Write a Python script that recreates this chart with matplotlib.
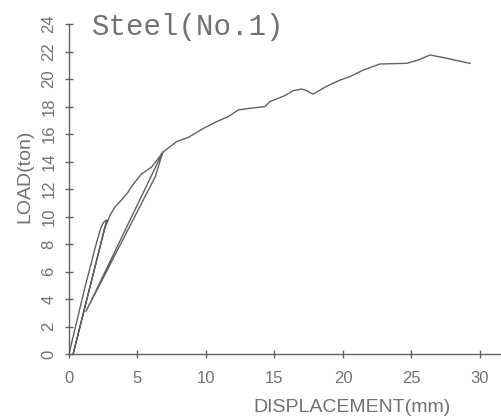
import matplotlib
matplotlib.use('Agg')
import matplotlib.pyplot as plt
import numpy as np

# load-displacement record (mm, ton)
disp = [0.0, 0.6, 1.2, 1.6, 1.9, 2.1, 2.3, 2.5, 2.75,   # first loading
        0.3,                                           # unload 1
        2.6,                                           # reload 1
        3.0, 3.36, 3.84, 4.33, 4.57, 5.3, 6.03, 6.5, 6.84,
        1.24,                                          # unload 2
        6.3, 6.84,                                     # reload 2
        7.86, 8.7, 9.8, 10.78, 11.63, 12.36, 13.2, 14.3, 14.67, 15.04,
        15.77, 16.37, 16.98, 17.35, 17.8, 18.8, 19.8, 20.5, 21.48, 22.7,
        24.65, 25.5, 26.35, 27.3, 29.27]
load = [0.0, 2.5, 5.0, 6.5, 7.7, 8.4, 9.1, 9.55, 9.75,
        0.0,
        9.1,
        10.1, 10.7, 11.2, 11.8, 12.2, 13.1, 13.6, 14.2, 14.67,
        3.1,
        12.9, 14.67,
        15.45, 15.75, 16.4, 16.9, 17.27, 17.75, 17.87, 17.99, 18.36, 18.5,
        18.8, 19.15, 19.27, 19.15, 18.9, 19.47, 19.93, 20.17, 20.65, 21.09,
        21.14, 21.38, 21.75, 21.56, 21.14]

xticks = [0, 5, 10, 15, 20, 25, 30]
yticks = [0, 2, 4, 6, 8, 10, 12, 14, 16, 18, 20, 22, 24]

C_LINE = '#626262'
C_TEXT = '#727272'
FONT = 'Liberation Sans'

fig = plt.figure(figsize=(5.02, 4.18), dpi=100)
ax = fig.add_axes([69/502, 64/418, 433/502, 330/418])

ax.plot(disp, load, color=C_LINE, linewidth=1.0)

ax.set_xlim(0, 433/13.7)
ax.set_ylim(0, 24)
for sp in ['top', 'right']:
    ax.spines[sp].set_visible(False)
for sp in ['bottom', 'left']:
    ax.spines[sp].set_color(C_LINE)
    ax.spines[sp].set_linewidth(1.0)
ax.spines['left'].set_bounds(0, 24)

ax.set_xticks(xticks)
ax.set_yticks(yticks)
ax.tick_params(direction='inout', length=6, width=1.0, color=C_LINE,
               labelcolor=C_TEXT)
ax.tick_params(axis='x', pad=9)
ax.tick_params(axis='y', pad=6)
ax.set_xticklabels([str(v) for v in xticks], family=FONT, fontsize=12)
ax.set_yticklabels([str(v) for v in yticks], family=FONT, fontsize=12,
                   rotation=90, va='center')

fig.text(92/502, 1 - 27/418, 'Steel(No.1)', family='Liberation Mono',
         fontsize=21, color=C_TEXT, ha='left', va='center')
fig.text(352/502, 1 - 407/418, 'DISPLACEMENT(mm)', family=FONT,
         fontsize=14, color=C_TEXT, ha='center', va='center')
fig.text(25/502, 1 - 176/418, 'LOAD(ton)', family=FONT,
         fontsize=14, color=C_TEXT, ha='center', va='center', rotation=90)

plt.savefig('out.png', dpi=100, facecolor='white')
plt.close()
